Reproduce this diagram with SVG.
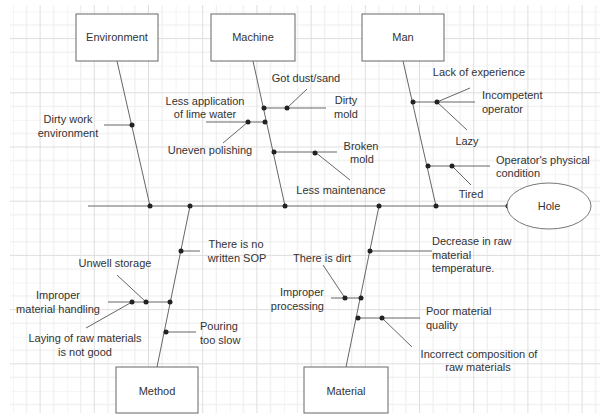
<svg xmlns="http://www.w3.org/2000/svg" width="600" height="416" viewBox="0 0 600 416">
<style>
text{font-family:"Liberation Sans",Arial,sans-serif;font-size:11px;fill:#333}
.c{text-anchor:middle}
.e{text-anchor:end}
.box{fill:#fff;stroke:#666;stroke-width:1}
.ln{stroke:#666;stroke-width:1;fill:none}
.dot{fill:#222}
</style>
<defs>
<pattern id="grid" patternUnits="userSpaceOnUse" x="13" y="11.5" width="54.2" height="54.2">
<path d="M0 0V54.2M13.55 0V54.2M40.65 0V54.2M0 0H54.2M0 13.55H54.2M0 40.65H54.2" stroke="#ececec" stroke-width="1" fill="none"/>
<path d="M27.1 0V54.2M0 27.1H54.2" stroke="#dedede" stroke-width="1" fill="none"/>
</pattern>
</defs>
<rect x="0" y="0" width="600" height="416" fill="#fff"/>
<rect x="10" y="5" width="590" height="408" fill="url(#grid)"/>

<g id="connectors">
<line class="ln" x1="88" y1="206" x2="507" y2="206"/>
<line class="ln" x1="117" y1="61" x2="150" y2="206"/>
<line class="ln" x1="253" y1="61" x2="285" y2="206"/>
<line class="ln" x1="403" y1="61" x2="436" y2="206"/>
<line class="ln" x1="190" y1="206" x2="157" y2="367"/>
<line class="ln" x1="379" y1="206" x2="346" y2="367"/>
<!-- environment -->
<line class="ln" x1="104" y1="125" x2="132" y2="125"/>
<!-- machine -->
<line class="ln" x1="263" y1="108" x2="326" y2="108"/>
<line class="ln" x1="287" y1="108" x2="307" y2="89"/>
<line class="ln" x1="206" y1="122" x2="266" y2="122"/>
<line class="ln" x1="248" y1="122" x2="223" y2="143"/>
<line class="ln" x1="274" y1="152" x2="337" y2="152"/>
<line class="ln" x1="315" y1="152" x2="350" y2="180"/>
<!-- man -->
<line class="ln" x1="412" y1="102" x2="475" y2="102"/>
<line class="ln" x1="437" y1="102" x2="470" y2="88"/>
<line class="ln" x1="437" y1="102" x2="467" y2="130"/>
<line class="ln" x1="427" y1="166" x2="490" y2="166"/>
<line class="ln" x1="452" y1="166" x2="471" y2="185"/>
<!-- method -->
<line class="ln" x1="181" y1="251" x2="200" y2="251"/>
<line class="ln" x1="108" y1="302" x2="170" y2="302"/>
<line class="ln" x1="146" y1="302" x2="117" y2="275"/>
<line class="ln" x1="132" y1="302" x2="86" y2="328"/>
<line class="ln" x1="165" y1="332" x2="196" y2="332"/>
<!-- material -->
<line class="ln" x1="370" y1="251" x2="432" y2="251"/>
<line class="ln" x1="331" y1="298" x2="361" y2="298"/>
<line class="ln" x1="345" y1="298" x2="323" y2="265"/>
<line class="ln" x1="357" y1="318" x2="420" y2="318"/>
<line class="ln" x1="382" y1="318" x2="412" y2="347"/>
<!-- dots -->
<g class="dot">
<circle cx="150" cy="206" r="2.5"/><circle cx="190" cy="206" r="2.5"/><circle cx="285" cy="206" r="2.5"/>
<circle cx="379" cy="206" r="2.5"/><circle cx="436" cy="206" r="2.5"/><circle cx="508" cy="206" r="2.5"/>
<circle cx="132" cy="125" r="2.5"/>
<circle cx="264" cy="108" r="2.5"/><circle cx="287" cy="108" r="2.5"/>
<circle cx="265" cy="122" r="2.5"/><circle cx="248" cy="122" r="2.5"/>
<circle cx="274" cy="152" r="2.5"/><circle cx="315" cy="153" r="2.5"/>
<circle cx="413" cy="102" r="2.5"/><circle cx="437" cy="102" r="2.5"/>
<circle cx="428" cy="166" r="2.5"/><circle cx="452" cy="166" r="2.5"/>
<circle cx="181" cy="251" r="2.5"/>
<circle cx="170" cy="302" r="2.5"/><circle cx="146" cy="302" r="2.5"/><circle cx="132" cy="302" r="2.5"/>
<circle cx="166" cy="332" r="2.5"/>
<circle cx="370" cy="251" r="2.5"/>
<circle cx="361" cy="298" r="2.5"/><circle cx="345" cy="298" r="2.5"/>
<circle cx="358" cy="318" r="2.5"/><circle cx="382" cy="318" r="2.5"/>
</g>
</g>

<g id="environment"><rect class="box" x="76" y="14" width="82" height="47"/><text class="c" x="117" y="41">Environment</text></g>
<g id="machine"><rect class="box" x="211" y="14" width="84" height="47"/><text class="c" x="253" y="41">Machine</text></g>
<g id="man"><rect class="box" x="362" y="14" width="82" height="47"/><text class="c" x="403" y="41">Man</text></g>
<g id="method"><rect class="box" x="116" y="367" width="82" height="46"/><text class="c" x="157" y="395">Method</text></g>
<g id="material"><rect class="box" x="304" y="367" width="84" height="46"/><text class="c" x="346" y="395">Material</text></g>
<g id="hole"><ellipse cx="549" cy="206" rx="42" ry="23" fill="#fff" stroke="#777"/><text class="c" x="549" y="210">Hole</text></g>

<g id="labels">
<text class="c" x="68" y="123">Dirty work</text>
<text class="c" x="68" y="137">environment</text>
<text class="c" x="306" y="82">Got dust/sand</text>
<text class="c" x="346" y="104">Dirty</text>
<text class="c" x="346" y="118">mold</text>
<text class="c" x="205" y="105">Less application</text>
<text class="c" x="205" y="118">of lime water</text>
<text class="c" x="210" y="154">Uneven polishing</text>
<text class="c" x="361" y="150">Broken</text>
<text class="c" x="362" y="163">mold</text>
<text class="c" x="341" y="194">Less maintenance</text>
<text class="c" x="479" y="76">Lack of experience</text>
<text x="482" y="99">Incompetent</text>
<text x="482" y="113">operator</text>
<text class="c" x="467" y="145">Lazy</text>
<text x="496" y="164">Operator's physical</text>
<text x="496" y="177">condition</text>
<text class="c" x="471" y="198">Tired</text>
<text class="c" x="236" y="248">There is no</text>
<text class="c" x="237" y="262">written SOP</text>
<text class="c" x="115" y="267">Unwell storage</text>
<text class="c" x="58" y="299">Improper</text>
<text class="c" x="58" y="313">material handling</text>
<text class="c" x="85" y="342">Laying of raw materials</text>
<text class="c" x="85" y="356">is not good</text>
<text x="200" y="330">Pouring</text>
<text x="200" y="344">too slow</text>
<text x="432" y="245">Decrease in raw</text>
<text x="432" y="259">material</text>
<text x="432" y="272">temperature.</text>
<text class="c" x="322" y="262">There is dirt</text>
<text class="e" x="324" y="296">Improper</text>
<text class="e" x="324" y="310">processing</text>
<text x="426" y="315">Poor material</text>
<text x="426" y="329">quality</text>
<text class="c" x="479" y="358">Incorrect composition of</text>
<text class="c" x="478" y="371">raw materials</text>
</g>
</svg>
